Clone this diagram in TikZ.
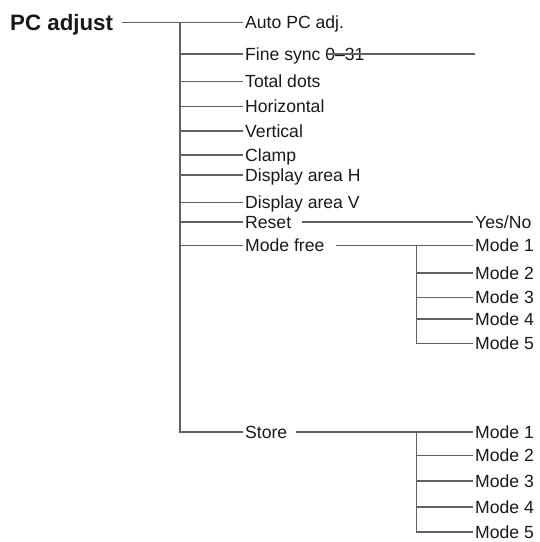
\documentclass[tikz,border=0pt]{standalone}
\usepackage{fontspec}
\setmainfont{Liberation Sans}

\begin{document}
\begin{tikzpicture}
    [x=1pt, y=-1pt,
    branch/.style={black!62, line width=1.1pt},
    item/.style={anchor=west, inner xsep=2pt, inner ysep=0pt, text height=12.6pt, text depth=0pt, text=black!90, font=\fontsize{17.6}{20}\selectfont}]
    \useasboundingbox (0,0) rectangle (540,542);
        %% Menu PC adjust
    \node[item, font=\bfseries\fontsize{22.3}{26}\selectfont, text height=16pt] (PC) at (8,22.5) {PC adjust};
        \node[item] (A1) at (243,22.5) {Auto PC adj.};
        \node[item] (A2) at (243,54) {Fine sync 0–31};
        \node[item] (A3) at (243,81.5) {Total dots};
        \node[item] (A4) at (243,106.5) {Horizontal};
        \node[item] (A5) at (243,131) {Vertical};
        \node[item] (A6) at (243,155) {Clamp};
        \node[item] (A7) at (243,175) {Display area H};
        \node[item] (A8) at (243,202.5) {Display area V};
        \node[item] (A9) at (243,222) {Reset};
        \node[item] (A10) at (243,245.5) {Mode free};
        \node[item] (A11) at (243,432) {Store};
        \coordinate (T) at (180,22.5);
        \coordinate (F) at (475,54);

        \draw[branch] ([xshift=7pt]PC.east) -- (A1.west);
        \draw[branch] (T) |- (A11.west);
        \draw[branch] (T |- A2.west) -- (A2.west);
        \draw[branch] (T |- A3.west) -- (A3.west);
        \draw[branch] (T |- A4.west) -- (A4.west);
        \draw[branch] (T |- A5.west) -- (A5.west);
        \draw[branch] (T |- A6.west) -- (A6.west);
        \draw[branch] (T |- A7.west) -- (A7.west);
        \draw[branch] (T |- A8.west) -- (A8.west);
        \draw[branch] (T |- A9.west) -- (A9.west);
        \draw[branch] (T |- A10.west) -- (A10.west);
        \draw[branch] ([xshift=-40pt]A2.east) -- (F);

        %% Reset and Mode free
    \node[item] (Y) at (473,222) {Yes/No};
        \node[item] (M1) at (473,245.5) {Mode 1};
        \node[item] (M2) at (473,273) {Mode 2};
        \node[item] (M3) at (473,297.5) {Mode 3};
        \node[item] (M4) at (473,319) {Mode 4};
        \node[item] (M5) at (473,343.5) {Mode 5};
        \coordinate (TM) at (416.5,245.5);

        \draw[branch] ([xshift=9pt]A9.east) -- (Y.west);
        \draw[branch] ([xshift=9pt]A10.east) -- (M1.west);
        \draw[branch] (TM) |- (M5.west);
        \draw[branch] (TM |- M2.west) -- (M2.west);
        \draw[branch] (TM |- M3.west) -- (M3.west);
        \draw[branch] (TM |- M4.west) -- (M4.west);

        %% Store
    \node[item] (S1) at (473,432) {Mode 1};
        \node[item] (S2) at (473,455.5) {Mode 2};
        \node[item] (S3) at (473,481) {Mode 3};
        \node[item] (S4) at (473,507) {Mode 4};
        \node[item] (S5) at (473,532) {Mode 5};
        \coordinate (TS) at (416.5,432);

        \draw[branch] ([xshift=7pt]A11.east) -- (S1.west);
        \draw[branch] (TS) |- (S5.west);
        \draw[branch] (TS |- S2.west) -- (S2.west);
        \draw[branch] (TS |- S3.west) -- (S3.west);
        \draw[branch] (TS |- S4.west) -- (S4.west);
    \end{tikzpicture}
\end{document}
